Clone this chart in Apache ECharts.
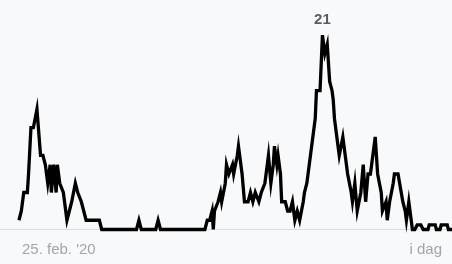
<!DOCTYPE html>
<html><head><meta charset="utf-8">
<script src="https://cdn.jsdelivr.net/npm/echarts@6/dist/echarts.min.js"></script>
<style>html,body{margin:0;padding:0;background:#f8f9fa;}#c{width:452px;height:264px;}</style>
</head><body><div id="c"></div>
<script>
// day offsets since 25 Feb 2020
var days = [0,2,4,7,8,10,12,15,18,20,22,24,26,27,29,31,32,34,37,38,40,42,44,47,49,52,54,56,67,69,98,100,102,114,116,118,155,157,159,161,162,163,166,168,169,172,173,175,178,179,182,183,186,188,191,193,195,197,200,202,205,207,208,210,212,213,215,216,218,219,222,224,226,228,230,232,234,237,238,240,242,244,247,248,251,252,253,255,257,258,259,261,262,263,265,267,270,272,274,277,278,280,282,285,287,289,291,293,294,297,299,302,303,306,307,309,312,313,316,317,320,322,323,325,327,328,330,332,335,337,341,342,347,348,351,352,357,358,361];
var values = [1,2,4,4,6,11,11,13,8,8,7,5,7,4,7,4,7,5,4,3,1,2,3,5,4,3,2,1,1,0,0,1,0,0,1,0,0,1,1,2,0,2,3,4,3,5,7,6,7,6,8,9,6,3,3,4,3,4,3,4,5,7,8,5,7,9,7,8,6,3,3,2,2,3,1,2,1,3,4,5,7,9,12,15,15,18,21,19,20,18,16,15,14,12,10,8,10,8,6,4,3,5,2,4,7,3,6,6,7,10,6,4,2,3,1,3,5,6,6,6,3,2,1,3,1,0,0,0.5,0.5,0,0,0.5,0.5,0,0,0.5,0.5,0,0];
var lastDay = 361;
var tickLabels = {first: "25. feb. '20", last: "i dag"};

var data = days.map(function(d,i){return [d, values[i]];});
var chart = echarts.init(document.getElementById('c'));
chart.setOption({
  backgroundColor: '#f8f9fa',
  animation: false,
  grid: {left: 0, right: 0, top: 0, bottom: 32},
  xAxis: {
    type: 'value', min: -15.8, max: lastDay,
    splitLine: {show: false},
    axisTick: {show: false},
    axisLine: {show: true, lineStyle: {color: '#dcdde0', width: 1}},
    axisLabel: {
      customValues: [0, lastDay],
      margin: 10,
      color: '#a3a5a8',
      fontSize: 15,
      fontFamily: 'Liberation Sans, Arial, sans-serif',
      alignMinLabel: 'left',
      alignMaxLabel: 'right',
      formatter: function(v){ return v === 0 ? '{a|' + tickLabels.first + '}' : '{b|' + tickLabels.last + '}'; },
      rich: {
        a: {padding: [0,0,0,3], color:'#a3a5a8', fontSize:15, fontFamily:'Liberation Sans, Arial, sans-serif'},
        b: {padding: [0,10,0,0], color:'#a3a5a8', fontSize:15, fontFamily:'Liberation Sans, Arial, sans-serif'}
      }
    }
  },
  yAxis: {type: 'value', min: -0.27, max: 24.8, show: false, splitLine: {show: false}},
  series: [{
    type: 'line', data: data, showSymbol: false, symbol: 'none',
    lineStyle: {color: '#000', width: 3.3, join: 'miter'},
    markPoint: {
      symbol: 'circle', symbolSize: 1, itemStyle: {color: 'rgba(0,0,0,0)'},
      data: [{type: 'max'}],
      label: {show: true, position: 'top', distance: 7, formatter: '{c}', color: '#5a5c60', fontSize: 15, fontWeight: 'bold', fontFamily: 'Liberation Sans, Arial, sans-serif'}
    }
  }]
});
</script></body></html>
